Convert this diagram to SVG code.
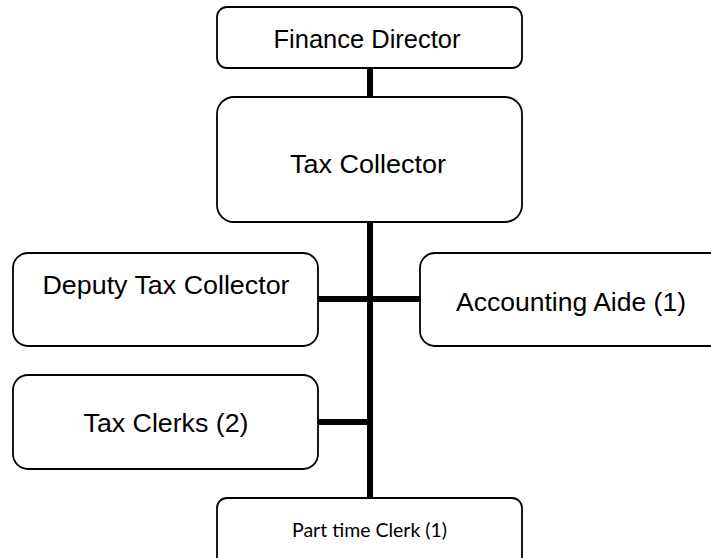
<svg xmlns="http://www.w3.org/2000/svg" width="711" height="558" viewBox="0 0 711 558">
<style>
.box{fill:#fff;stroke:#000;stroke-width:1.8}
.t{font-family:"Liberation Sans",Arial,sans-serif;font-size:25px;fill:#000;text-anchor:middle}
.s{font-family:Lato,"Open Sans",sans-serif;font-size:19px;fill:#000;text-anchor:middle}
.c{stroke:#000;stroke-width:6;fill:none}
</style>
<rect width="711" height="558" fill="#fff"/>
<g id="connectors">
<line class="c" x1="370" y1="68" x2="370" y2="97"/>
<line class="c" x1="370" y1="222" x2="370" y2="498"/>
<line class="c" x1="318" y1="299" x2="420" y2="299"/>
<line class="c" x1="318" y1="422" x2="370" y2="422"/>
</g>
<g id="finance-director">
<rect class="box" x="217" y="7" width="305" height="61" rx="10"/>
<text class="t" x="367" y="48" textLength="187" lengthAdjust="spacingAndGlyphs">Finance Director</text>
</g>
<g id="tax-collector">
<rect class="box" x="217" y="97" width="305" height="125" rx="17"/>
<text class="t" x="368" y="173" textLength="156" lengthAdjust="spacingAndGlyphs">Tax Collector</text>
</g>
<g id="deputy-tax-collector">
<rect class="box" x="13" y="253" width="305" height="93" rx="15"/>
<text class="t" x="166" y="294" textLength="247" lengthAdjust="spacingAndGlyphs">Deputy Tax Collector</text>
</g>
<g id="accounting-aide">
<rect class="box" x="420" y="253" width="310" height="93" rx="15"/>
<text class="t" x="571" y="311" textLength="230" lengthAdjust="spacingAndGlyphs">Accounting Aide (1)</text>
</g>
<g id="tax-clerks">
<rect class="box" x="13" y="375" width="305" height="94" rx="15"/>
<text class="t" x="166" y="432" textLength="165" lengthAdjust="spacingAndGlyphs">Tax Clerks (2)</text>
</g>
<g id="part-time-clerk">
<rect class="box" x="217" y="498" width="305" height="80" rx="10"/>
<text class="s" x="369.5" y="537" textLength="155" lengthAdjust="spacingAndGlyphs">Part time Clerk (1)</text>
</g>
</svg>
